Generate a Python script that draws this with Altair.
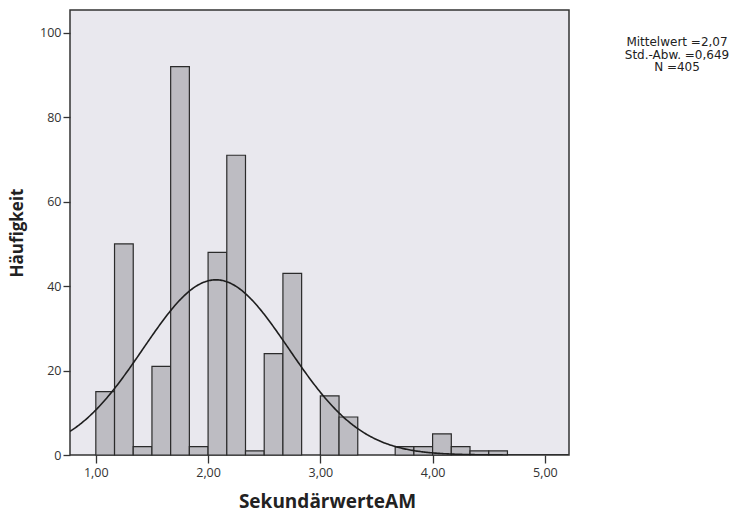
import altair as alt
import pandas as pd

# Histogram of SekundärwerteAM: bins of width 1/6 starting at 1,00
bin_width = 1 / 6
bin_index = list(range(22))
counts = [15, 50, 2, 21, 92, 2, 48, 71, 1, 24, 43, 0, 14, 9, 0, 0, 2, 2, 5, 2, 1, 1]

mean = 2.07
sd = 0.649
n = 405

x_ticks = [1, 2, 3, 4, 5]
y_ticks = [0, 20, 40, 60, 80, 100]
stats_lines = ["Mittelwert =2,07", "Std.-Abw. =0,649", "N =405"]

bars_df = pd.DataFrame({
    "lo": [1 + i * bin_width for i in bin_index],
    "hi": [1 + (i + 1) * bin_width for i in bin_index],
    "count": counts,
})
bars_df = bars_df[bars_df["count"] > 0]

x_dom = [0.77, 5.215]
y_dom = [0, 105.4]
font = "Open Sans"
comma_fmt = "replace(format(datum.value, '.2f'), '.', ',')"

x_scale = alt.Scale(domain=x_dom, nice=False, zero=False)
y_scale = alt.Scale(domain=y_dom, nice=False)

bars = alt.Chart(bars_df).mark_bar(
    color="#bdbcc2", stroke="#2b2b2b", strokeWidth=1.2
).encode(
    x=alt.X("lo:Q", scale=x_scale, title="SekundärwerteAM",
            axis=alt.Axis(values=x_ticks, labelExpr=comma_fmt, grid=False,
                          domain=False, tickColor="#333", tickSize=8,
                          tickWidth=1.3, labelFontSize=12.5, labelColor="#333",
                          labelPadding=3, titleFontSize=19, titleFontWeight="bold",
                          titleColor="#222", titlePadding=14, labelFont=font,
                          titleFont=font, titleX=257)),
    x2="hi:Q",
    y=alt.Y("count:Q", scale=y_scale, title="Häufigkeit",
            axis=alt.Axis(values=y_ticks, grid=False, domain=False,
                          tickColor="#333", tickSize=7, tickWidth=1.3,
                          labelFontSize=12.5, labelColor="#333", labelPadding=2,
                          titleFontSize=17, titleFontWeight="bold",
                          titleColor="#222", titlePadding=13, labelFont=font,
                          titleFont=font)),
    y2=alt.datum(0),
)

# Normal curve scaled to counts: N * bin width * pdf
curve = alt.Chart(alt.sequence(x_dom[0], x_dom[1] + 0.005, 0.01, as_="x")).transform_calculate(
    y=f"{n} * {bin_width} / ({sd} * sqrt(2 * PI)) * exp(-0.5 * pow((datum.x - {mean}) / {sd}, 2))"
).mark_line(color="#1e1e1e", strokeWidth=1.6, clip=True).encode(
    x=alt.X("x:Q", scale=x_scale),
    y=alt.Y("y:Q", scale=y_scale),
)

# Summary statistics block to the right of the plot
stats_layers = [
    alt.Chart(pd.DataFrame({"line": [txt]})).mark_text(
        font="DejaVu Sans", fontSize=12, color="#222", align="center",
        baseline="middle"
    ).encode(x=alt.value(607), y=alt.value(32 + 12.6 * i), text="line:N")
    for i, txt in enumerate(stats_lines)
]

chart = alt.layer(bars, curve, *stats_layers).properties(
    width=499, height=445,
    background="white",
    padding={"left": 70, "top": 10, "right": 171, "bottom": 58},
    autosize=alt.AutoSizeParams(type="none"),
).configure_view(
    fill="#e9e8ee", stroke="#333", strokeWidth=1.5
)

chart.save("out.html", embed_options={"renderer": "svg", "actions": False})
